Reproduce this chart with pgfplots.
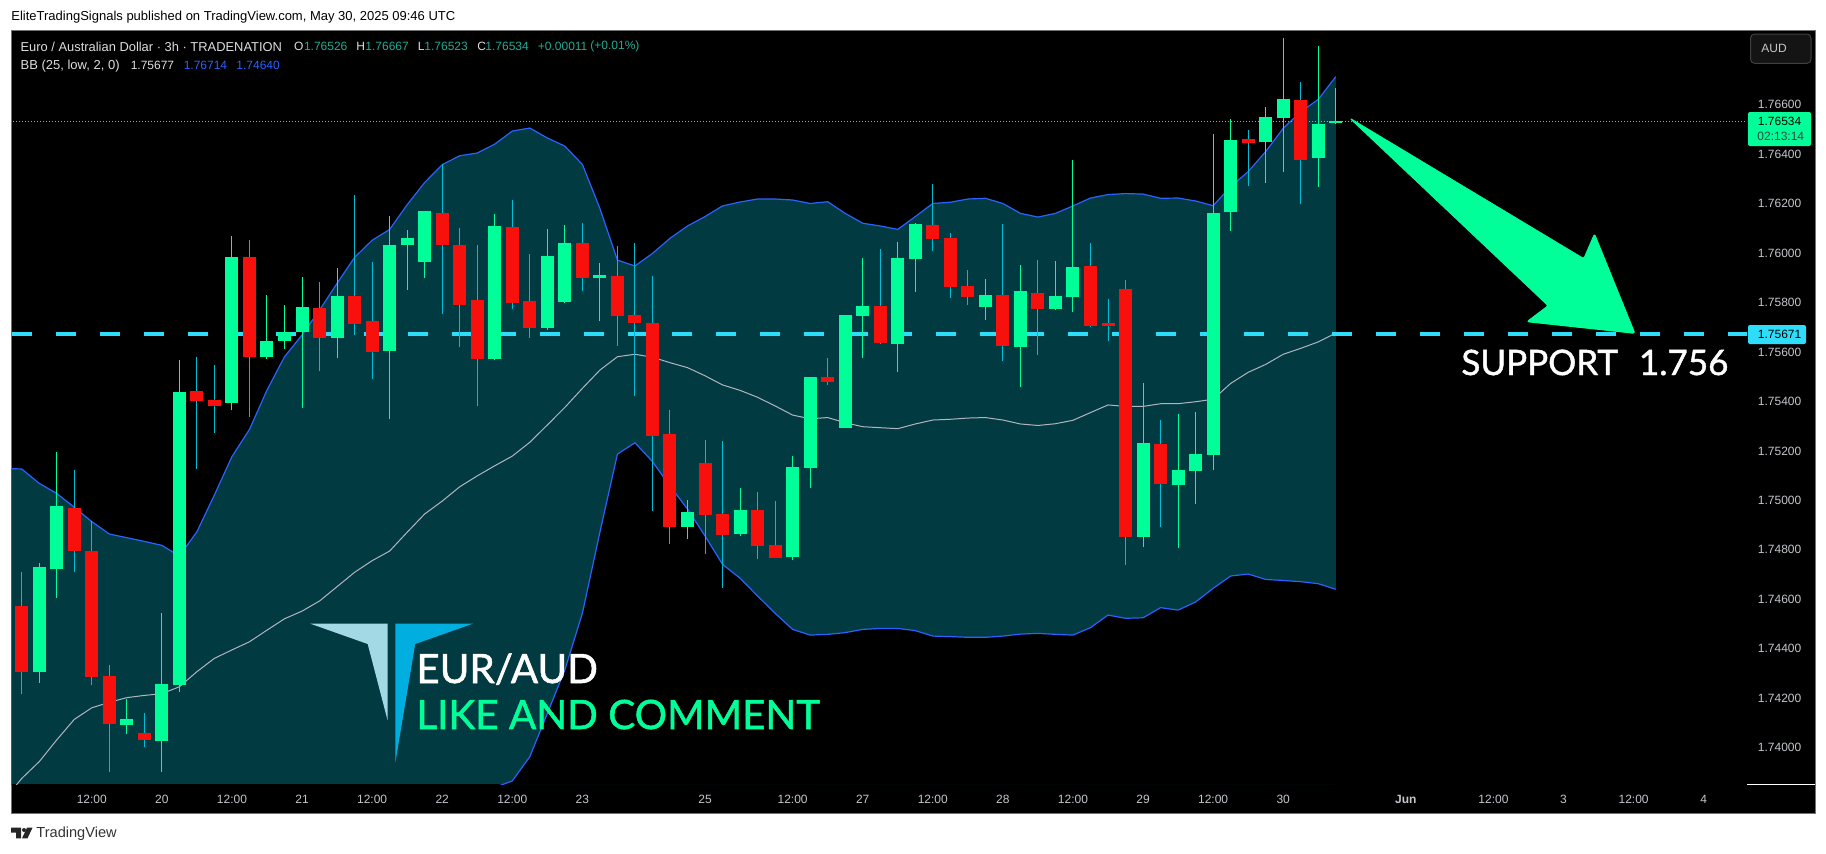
\documentclass[border=0pt]{standalone}
\usepackage{fontspec}
\setmainfont{Liberation Sans}
\newfontfamily\bigfont[FakeBold=1.3]{Lato}
\usepackage{pgfplots}
\usepackage{pgfplotstable}
\pgfplotsset{compat=1.18}
\definecolor{upc}{HTML}{00FF99}
\definecolor{dnc}{HTML}{F7100C}
\definecolor{dnw}{HTML}{00BCD4}
\definecolor{bandfill}{HTML}{023A42}
\definecolor{bandline}{HTML}{2962FF}
\definecolor{basisc}{HTML}{B2B5BE}
\definecolor{sup}{HTML}{2EDDF9}
\definecolor{ticktxt}{HTML}{C4C6CC}
\definecolor{tealtxt}{HTML}{22AB94}
\definecolor{logol}{HTML}{A2D9E4}
\definecolor{logor}{HTML}{00AEE0}
\pgfplotstableread{
i o h l c
1 1.74307 1.74745 1.74262 1.74730
2 1.74722 1.75196 1.74606 1.74977
6 1.74091 1.74196 1.74056 1.74115
8 1.74027 1.74544 1.73902 1.74257
9 1.74253 1.75568 1.74226 1.75438
12 1.75395 1.76069 1.75365 1.75984
14 1.75580 1.75831 1.75572 1.75645
15 1.75645 1.75790 1.75612 1.75681
16 1.75681 1.75903 1.75375 1.75782
18 1.75657 1.75940 1.75576 1.75827
21 1.75604 1.76150 1.75329 1.76033
22 1.76033 1.76094 1.75851 1.76061
23 1.75964 1.76170 1.75899 1.76170
27 1.75572 1.76158 1.75568 1.76110
30 1.75697 1.76098 1.75689 1.75988
31 1.75802 1.76114 1.75798 1.76041
33 1.75899 1.75960 1.75725 1.75912
38 1.74892 1.75001 1.74844 1.74953
41 1.74864 1.75050 1.74856 1.74961
44 1.74771 1.75179 1.74759 1.75135
45 1.75131 1.75499 1.75050 1.75499
47 1.75293 1.75750 1.75293 1.75750
48 1.75746 1.75980 1.75576 1.75786
50 1.75633 1.76045 1.75519 1.75980
51 1.75976 1.76122 1.75843 1.76118
55 1.75782 1.75895 1.75729 1.75831
57 1.75620 1.75952 1.75458 1.75847
59 1.75774 1.75968 1.75770 1.75827
60 1.75823 1.76378 1.75762 1.75944
64 1.74852 1.75475 1.74811 1.75232
66 1.75062 1.75349 1.74807 1.75123
67 1.75119 1.75357 1.74985 1.75187
68 1.75183 1.76482 1.75123 1.76162
69 1.76166 1.76543 1.76090 1.76458
71 1.76450 1.76591 1.76284 1.76551
72 1.76547 1.76870 1.76328 1.76624
74 1.76385 1.76838 1.76268 1.76522
75 1.76526 1.76667 1.76523 1.76534
}\uptable
\pgfplotstableread{
i o h l c
0 1.74573 1.74710 1.74218 1.74307
3 1.74969 1.75123 1.74711 1.74795
4 1.74795 1.74918 1.74253 1.74287
5 1.74289 1.74333 1.73902 1.74097
7 1.74059 1.74140 1.74002 1.74032
10 1.75442 1.75580 1.75127 1.75402
11 1.75406 1.75548 1.75274 1.75383
13 1.75984 1.76053 1.75338 1.75580
17 1.75778 1.75883 1.75523 1.75657
19 1.75827 1.76235 1.75669 1.75713
20 1.75725 1.75964 1.75491 1.75600
24 1.76162 1.76361 1.75754 1.76033
25 1.76033 1.76102 1.75620 1.75790
26 1.75810 1.76033 1.75382 1.75572
28 1.76106 1.76215 1.75774 1.75798
29 1.75806 1.75997 1.75657 1.75697
32 1.76041 1.76122 1.75847 1.75899
34 1.75908 1.76029 1.75624 1.75746
35 1.75750 1.76041 1.75423 1.75717
36 1.75717 1.75908 1.74957 1.75260
37 1.75268 1.75365 1.74823 1.74892
39 1.75151 1.75244 1.74783 1.74941
40 1.74945 1.75240 1.74645 1.74860
42 1.74961 1.75034 1.74763 1.74815
43 1.74819 1.74997 1.74767 1.74767
46 1.75499 1.75576 1.75467 1.75479
49 1.75786 1.76017 1.75633 1.75637
52 1.76114 1.76280 1.76009 1.76057
53 1.76061 1.76081 1.75818 1.75863
54 1.75867 1.75932 1.75790 1.75823
56 1.75831 1.76118 1.75564 1.75624
58 1.75839 1.75972 1.75588 1.75774
61 1.75948 1.76041 1.75701 1.75705
62 1.75717 1.75815 1.75645 1.75705
63 1.75855 1.75891 1.74739 1.74852
65 1.75228 1.75325 1.74892 1.75066
70 1.76462 1.76498 1.76272 1.76446
73 1.76620 1.76692 1.76199 1.76377
}\dntable
\pgfplotstableread{
i u m b
-1 1.75129 1.73788 1.72574
0 1.75127 1.73875 1.72624
1 1.75069 1.73943 1.72817
2 1.75028 1.74031 1.73033
3 1.74972 1.74114 1.73257
4 1.74914 1.74161 1.73409
5 1.74864 1.74183 1.73502
6 1.74849 1.74202 1.73555
7 1.74834 1.74211 1.73588
8 1.74818 1.74218 1.73618
9 1.74775 1.74246 1.73718
10 1.74873 1.74307 1.73741
11 1.75022 1.74361 1.73700
12 1.75177 1.74395 1.73613
13 1.75287 1.74428 1.73569
14 1.75446 1.74475 1.73505
15 1.75581 1.74521 1.73461
16 1.75669 1.74552 1.73436
17 1.75770 1.74593 1.73416
18 1.75878 1.74651 1.73424
19 1.75983 1.74709 1.73435
20 1.76052 1.74756 1.73460
21 1.76096 1.74795 1.73494
22 1.76196 1.74871 1.73545
23 1.76286 1.74945 1.73603
24 1.76358 1.74997 1.73637
25 1.76394 1.75055 1.73716
26 1.76405 1.75099 1.73792
27 1.76441 1.75140 1.73839
28 1.76494 1.75179 1.73865
29 1.76506 1.75235 1.73963
30 1.76466 1.75305 1.74138
31 1.76433 1.75376 1.74314
32 1.76359 1.75453 1.74543
33 1.76181 1.75527 1.74871
34 1.75972 1.75581 1.75187
35 1.75948 1.75591 1.75233
36 1.75999 1.75579 1.75157
37 1.76060 1.75557 1.75058
38 1.76110 1.75537 1.74965
39 1.76148 1.75504 1.74856
40 1.76191 1.75467 1.74741
41 1.76207 1.75445 1.74685
42 1.76219 1.75417 1.74613
43 1.76219 1.75382 1.74543
44 1.76215 1.75345 1.74478
45 1.76201 1.75330 1.74455
46 1.76208 1.75335 1.74458
47 1.76161 1.75314 1.74465
48 1.76121 1.75298 1.74478
49 1.76110 1.75294 1.74482
50 1.76096 1.75290 1.74482
51 1.76148 1.75309 1.74473
52 1.76201 1.75325 1.74451
53 1.76206 1.75328 1.74449
54 1.76219 1.75333 1.74446
55 1.76222 1.75335 1.74446
56 1.76201 1.75325 1.74451
57 1.76161 1.75309 1.74459
58 1.76146 1.75303 1.74462
59 1.76161 1.75310 1.74458
60 1.76191 1.75324 1.74455
61 1.76223 1.75355 1.74485
62 1.76237 1.75386 1.74536
63 1.76241 1.75380 1.74523
64 1.76239 1.75380 1.74525
65 1.76222 1.75391 1.74566
66 1.76223 1.75391 1.74556
67 1.76211 1.75399 1.74589
68 1.76192 1.75409 1.74644
69 1.76269 1.75473 1.74694
70 1.76330 1.75518 1.74702
71 1.76411 1.75550 1.74680
72 1.76505 1.75591 1.74676
73 1.76572 1.75615 1.74671
74 1.76622 1.75641 1.74663
75 1.76714 1.75677 1.74640
}\bands
\begin{document}
\begin{tikzpicture}
\begin{scope}[x=0.5pt,y=-0.5pt]
\path[use as bounding box,fill=white] (0,0) rectangle (1826,853);
\fill[black] (11.5,30) rectangle (1815,813);
\draw[line width=0.5pt,draw=black!55] (11.5,30) rectangle (1815,813);
\draw[line width=0.5pt,white] (1747,784) -- (1815,784);
\end{scope}
\begin{axis}[
  at={(5.75pt,-392pt)},anchor=south west,
  scale only axis,width=867.75pt,height=377pt,
  xmin=-0.582,xmax=98.47,ymin=1.738526,ymax=1.769027,
  axis x line*=bottom,axis y line*=right,
  axis line style={draw=none},
  major tick length=0pt,tick style={draw=none},
  scaled y ticks=false,
  xtick={4,8,12,16,20,24,28,32,39,44,48,52,56,60,64,68,72,79,84,88,92,96},
  xticklabels={12:00,20,12:00,21,12:00,22,12:00,23,25,12:00,27,12:00,28,12:00,29,12:00,30,\textbf{Jun},12:00,3,12:00,4},
  ytick={1.74,1.742,1.744,1.746,1.748,1.75,1.752,1.754,1.756,1.758,1.76,1.762,1.764,1.766},
  tick label style={font=\fontsize{6}{7}\selectfont,text=ticktxt,inner sep=0pt},
  xticklabel style={anchor=center,yshift=-7.5pt},
  yticklabel style={anchor=west,xshift=5.25pt,
    /pgf/number format/.cd,fixed,fixed zerofill,precision=5,assume math mode=true},
]
\addplot[draw=none,fill=bandfill,forget plot] table[x=i,y=u] {\bands} \closedcycle;
\addplot[draw=none,fill=black,forget plot] table[x=i,y=b] {\bands} \closedcycle;
\addplot[basisc,line width=0.5pt,forget plot] table[x=i,y=m] {\bands};
\addplot[bandline,line width=0.6pt,forget plot] table[x=i,y=u] {\bands};
\addplot[bandline,line width=0.6pt,forget plot] table[x=i,y=b] {\bands};
\addplot[upc,line width=0.5pt,dash pattern=on 0.5pt off 1pt,forget plot] coordinates {(-1,1.76534)(99,1.76534)};
\addplot[sup,line width=2pt,dash pattern=on 10pt off 12pt,forget plot] coordinates {(-0.582,1.75671)(98.47,1.75671)};
% wicks
\addplot[draw=none,mark=none,forget plot,error bars/.cd,y dir=plus,y explicit,error mark=none,
  error bar style={draw=upc,line width=0.5pt}]
  table[x=i,y=l,y error plus expr=\thisrow{h}-\thisrow{l}] {\uptable};
\addplot[draw=none,mark=none,forget plot,error bars/.cd,y dir=plus,y explicit,error mark=none,
  error bar style={draw=dnw,line width=0.5pt}]
  table[x=i,y=l,y error plus expr=\thisrow{h}-\thisrow{l}] {\dntable};
% bodies
\addplot[draw=none,mark=none,forget plot,error bars/.cd,y dir=plus,y explicit,error mark=none,
  error bar style={draw=upc,line width=6.5pt}]
  table[x=i,y=o,y error plus expr=\thisrow{c}-\thisrow{o}] {\uptable};
\addplot[draw=none,mark=none,forget plot,error bars/.cd,y dir=plus,y explicit,error mark=none,
  error bar style={draw=dnc,line width=6.5pt}]
  table[x=i,y=c,y error plus expr=\thisrow{o}-\thisrow{c}] {\dntable};
\end{axis}
\begin{scope}[x=0.5pt,y=-0.5pt]
% price tags
\fill[upc,rounded corners=1pt] (1748,112) rectangle (1811,146);
\node[anchor=west,inner sep=0pt,font=\fontsize{6}{7}\selectfont,text=black] at (1757.5,121.7) {1.76534};
\node[anchor=west,inner sep=0pt,font=\fontsize{6}{7}\selectfont,text=black!75] at (1757,136.7) {02:13:14};
\fill[sup,rounded corners=1pt] (1748,325) rectangle (1806,344);
\node[anchor=west,inner sep=0pt,font=\fontsize{6}{7}\selectfont,text=black] at (1757.5,334.7) {1.75671};
% currency button
\draw[fill=black!92!white,draw=black!75!white,line width=0.5pt,rounded corners=2pt] (1750.5,34) rectangle (1811,63.3);
\node[anchor=west,inner sep=0pt,font=\fontsize{6}{7}\selectfont,text=ticktxt] at (1761,48.5) {AUD};
% header and footer
\node[anchor=west,inner sep=0pt,font=\fontsize{6.5}{7}\selectfont,text=black] at (11,17)
  {EliteTradingSignals published on TradingView.com, May 30, 2025 09:46 UTC};
\fill[black!85] (11,827.7) -- (21,827.7) -- (21,838.3) -- (16,838.3) -- (16,832.5) -- (11,832.5) -- cycle;
\fill[black!85] (24,830) circle (2);
\fill[black!85] (27,827.7) -- (32.5,827.7) -- (27.5,838.3) -- (22,838.3) -- cycle;
\node[anchor=west,inner sep=0pt,font=\fontsize{7.3}{8}\selectfont,text=black!80] at (36,833.5) {TradingView};
% legend
\begin{scope}[every node/.style={anchor=west,inner sep=0pt,font=\fontsize{6}{7}\selectfont}]
\node[text=ticktxt!60!white,font=\fontsize{6.45}{7}\selectfont] at (20.2,46.7) {Euro / Australian Dollar · 3h · TRADENATION};
\node[text=ticktxt!60!white] at (293.7,46.7) {O};
\node[text=tealtxt] at (303.6,46.7) {1.76526};
\node[text=ticktxt!60!white] at (356,46.7) {H};
\node[text=tealtxt] at (365,46.7) {1.76667};
\node[text=ticktxt!60!white] at (417.4,46.7) {L};
\node[text=tealtxt] at (424,46.7) {1.76523};
\node[text=ticktxt!60!white] at (477,46.7) {C};
\node[text=tealtxt] at (485,46.7) {1.76534};
\node[text=tealtxt] at (537.5,46.7) {+0.00011};
\node[text=tealtxt] at (590,46.7) {(+0.01\%)};
\node[text=ticktxt!60!white,font=\fontsize{6.5}{7}\selectfont] at (20.2,65.7) {BB (25, low, 2, 0)};
\node[text=ticktxt!60!white] at (130.4,65.7) {1.75677};
\node[text=bandline] at (183.4,65.7) {1.76714};
\node[text=bandline] at (236,65.7) {1.74640};
\end{scope}
% arrow
\fill[upc,draw=upc,line width=0.5pt,line join=round,rounded corners=1pt] (1350,118.3) -- (1583.8,258.7) -- (1594.5,234) -- (1634.8,333.3) -- (1527,321.7) -- (1548.2,305.7) -- cycle;
% annotations
\node[anchor=base west,inner sep=0pt,text=white,font=\bigfont\fontsize{17.5}{20}\selectfont] at (1461,375) {SUPPORT\ \ \kern1.5pt 1.756};
% logo
\fill[logol] (310.4,623.7) -- (387.5,623.7) -- (387.5,720) -- (367.7,644) -- cycle;
\fill[logor] (395.4,623.7) -- (472.9,623.7) -- (415.2,644) -- (395.4,762.3) -- cycle;
\node[anchor=base west,inner sep=0pt,text=white,font=\bigfont\fontsize{20.2}{24}\selectfont] at (416,683) {EUR/AUD};
\node[anchor=base west,inner sep=0pt,text=upc,font=\bigfont\fontsize{20.2}{24}\selectfont] at (416,729) {LIKE AND COMMENT};
\end{scope}
\end{tikzpicture}
\end{document}
